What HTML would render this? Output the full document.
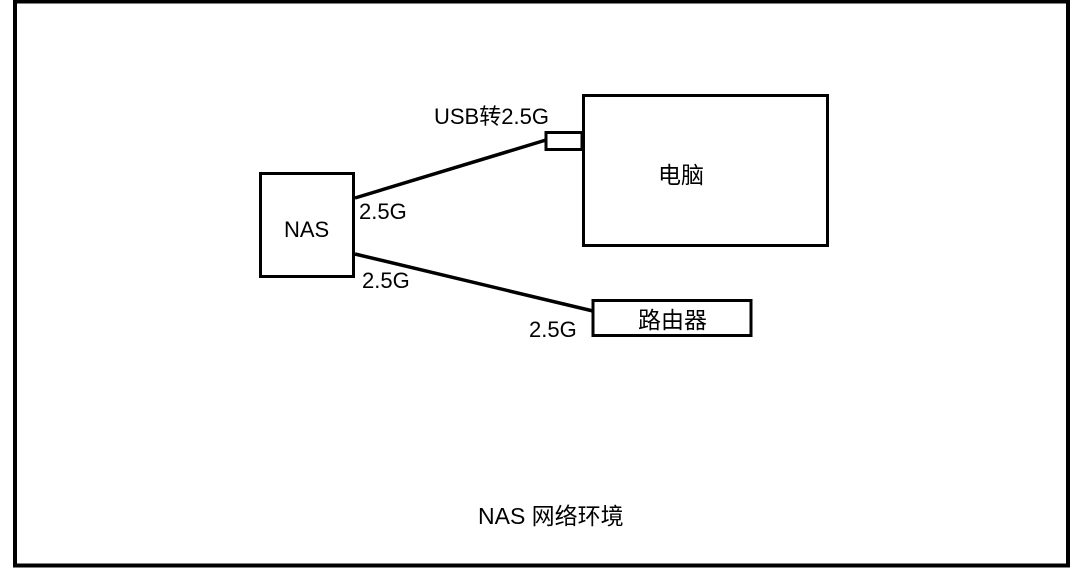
<!DOCTYPE html>
<html><head><meta charset="utf-8"><style>
body{margin:0;background:#fff;}
svg text{font-family:"Liberation Sans","Noto Sans CJK SC",sans-serif;font-size:22px;fill:#000;}
</style></head><body>
<svg width="1086" height="582" xmlns="http://www.w3.org/2000/svg">
<rect x="15" y="1.5" width="1053" height="564" fill="none" stroke="#000" stroke-width="4"/>
<rect x="260.5" y="173.5" width="93" height="103" fill="none" stroke="#000" stroke-width="3"/>
<rect x="583.5" y="95.5" width="244" height="150" fill="none" stroke="#000" stroke-width="3"/>
<rect x="546" y="132.5" width="36" height="17" fill="none" stroke="#000" stroke-width="3"/>
<rect x="593" y="300.5" width="158" height="35" fill="none" stroke="#000" stroke-width="3"/>
<line x1="355" y1="198" x2="546" y2="140" stroke="#000" stroke-width="3.5"/>
<line x1="355" y1="254" x2="593" y2="311" stroke="#000" stroke-width="3.5"/>
<text x="284" y="237">NAS</text>
<text x="658" y="183" style="font-size:23px">电脑</text>
<text x="638" y="328" style="font-size:23px">路由器</text>
<text x="434" y="124">USB转2.5G</text>
<text x="359" y="219">2.5G</text>
<text x="362" y="288">2.5G</text>
<text x="529" y="337">2.5G</text>
<text x="478" y="524" style="font-size:23px">NAS 网络环境</text>
</svg>
</body></html>
